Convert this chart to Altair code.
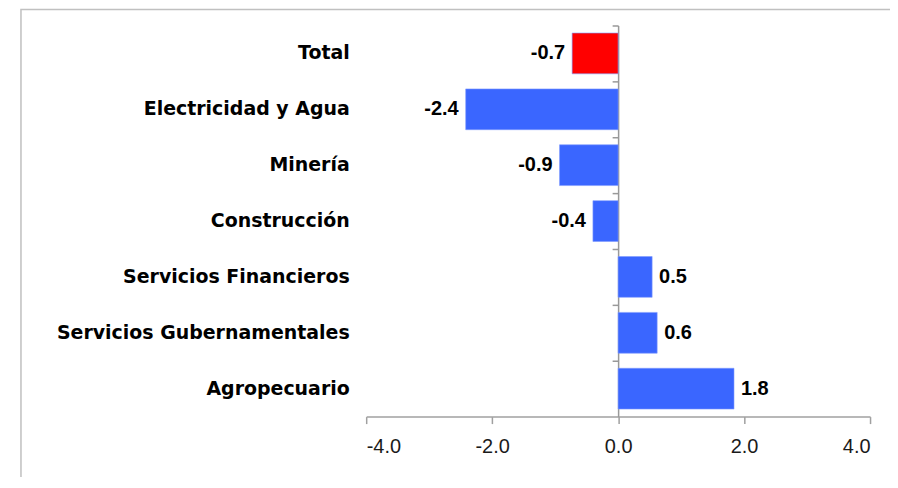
import altair as alt
import pandas as pd

categories = ["Total", "Electricidad y Agua", "Minería", "Construcción",
              "Servicios Financieros", "Servicios Gubernamentales", "Agropecuario"]
values = [-0.73, -2.42, -0.93, -0.40, 0.54, 0.62, 1.84]
bar_colors = ["#ff0000", "#3a66ff", "#3a66ff", "#3a66ff", "#3a66ff", "#3a66ff", "#3a66ff"]
x_ticks = [-4, -2, 0, 2, 4]

df = pd.DataFrame({"sector": categories, "value": values, "color": bar_colors})

W, H = 505, 392
LAB_FONT = "Liberation Sans, Arial, sans-serif"
xscale = alt.Scale(domain=[-4, 4], nice=False, zero=False)
xaxis = alt.Axis(values=x_ticks, grid=False, title=None,
                 labelExpr="replace(format(datum.value, '.1f'), '\u2212', '-')",
                 domainColor="#a0a0a0", domainWidth=1.5, tickColor="#a0a0a0",
                 tickWidth=1.5, tickSize=7, labelFont=LAB_FONT,
                 labelFontSize=20, labelColor="#1a1a1a", labelPadding=13)

base = alt.Chart(df).transform_calculate(
    label="replace(format(datum.value, '.1f'), '\u2212', '-')")

bars = base.mark_bar(strokeWidth=1, stroke="#7f9bff", strokeOpacity=0.6).encode(
    x=alt.X("value:Q", scale=xscale, axis=xaxis),
    y=alt.Y("sector:N", sort=categories,
            scale=alt.Scale(paddingInner=0.27, paddingOuter=0.135),
            axis=alt.Axis(title=None, domain=False, ticks=False, labelLimit=500,
                          labelFont="DejaVu Sans", labelFontWeight="bold",
                          labelFontSize=19, labelColor="#000000", labelPadding=17)),
    color=alt.Color("color:N", scale=None, legend=None),
)

zero_axis = alt.Chart(df).mark_bar(opacity=0).encode(
    x=alt.X("value:Q", scale=xscale, axis=xaxis),
    y=alt.Y("sector:N", sort=categories,
            scale=alt.Scale(paddingInner=0, paddingOuter=0),
            axis=alt.Axis(orient="left", offset=-W / 2, labels=False, title=None,
                          domainColor="#999999", domainWidth=1.5, tickColor="#999999",
                          tickWidth=1.5, tickSize=6, bandPosition=0)),
)

neg = base.transform_filter("datum.value < 0").mark_text(
    align="right", baseline="middle", dx=-7, font=LAB_FONT,
    fontWeight="bold", fontSize=20, color="#000000").encode(
    x=alt.X("value:Q", scale=xscale),
    y=alt.Y("sector:N", sort=categories),
    text=alt.Text("label:N"),
)
pos = base.transform_filter("datum.value >= 0").mark_text(
    align="left", baseline="middle", dx=7, font=LAB_FONT,
    fontWeight="bold", fontSize=20, color="#000000").encode(
    x=alt.X("value:Q", scale=xscale),
    y=alt.Y("sector:N", sort=categories),
    text=alt.Text("label:N"),
)

frame = alt.Chart(pd.DataFrame({"a": [0]})).mark_rect(
    fill=None, stroke="#c0c0c0", strokeWidth=1.5).encode(
    x=alt.value(-346), y=alt.value(-16), x2=alt.value(800), y2=alt.value(700))

main = alt.layer(bars, neg, pos)
chart = alt.layer(frame, main, zero_axis).resolve_scale(y="independent").resolve_axis(
    y="independent").properties(
    width=W, height=H,
    autosize=alt.AutoSizeParams(type="none"),
    padding={"left": 359, "top": 17, "right": 20, "bottom": 60},
).configure_view(stroke=None)

chart.save("out.html", embed_options={"renderer": "svg", "actions": False})
